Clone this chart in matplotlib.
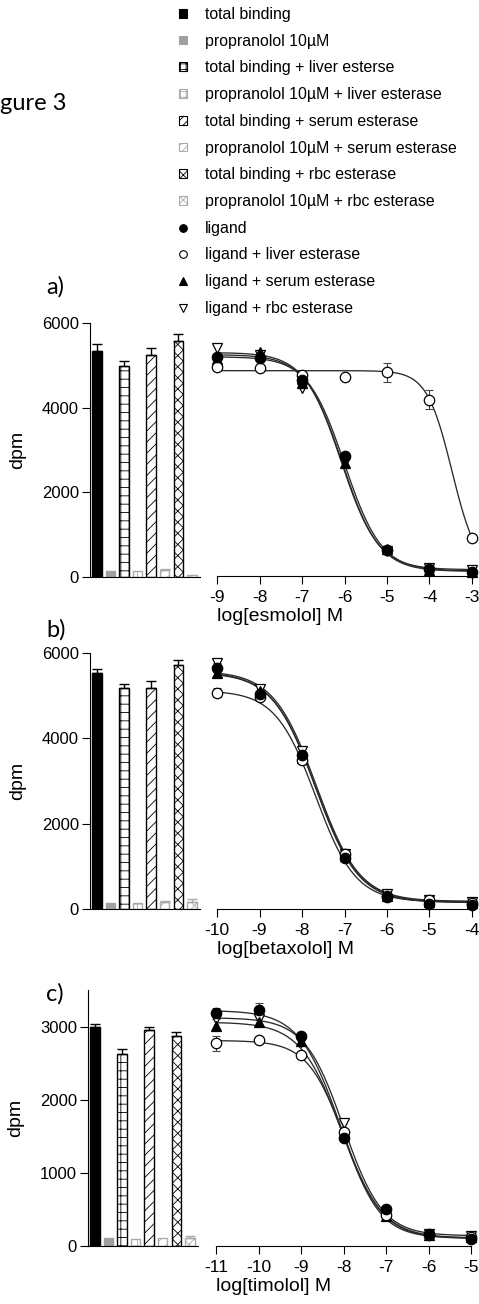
import numpy as np
import matplotlib.pyplot as plt
from matplotlib.patches import Patch
from matplotlib.lines import Line2D

plt.rcParams['font.family'] = ['Liberation Sans', 'DejaVu Sans']
plt.rcParams['axes.unicode_minus'] = False
plt.rcParams['hatch.linewidth'] = 0.6

W, H = 479, 1304

#%% legend / bar styles
bar_labels = ['total binding', 'propranolol 10\u00b5M',
              'total binding + liver esterse', 'propranolol 10\u00b5M + liver esterase',
              'total binding + serum esterase', 'propranolol 10\u00b5M + serum esterase',
              'total binding + rbc esterase', 'propranolol 10\u00b5M + rbc esterase']
curve_labels = ['ligand', 'ligand + liver esterase', 'ligand + serum esterase', 'ligand + rbc esterase']

bar_face = ['black', '#a0a0a0', 'white', 'white', 'white', 'white', 'white', 'white']
bar_edge = ['black', '#a0a0a0', 'black', '#aaaaaa', 'black', '#aaaaaa', 'black', '#aaaaaa']
bar_hatch = [None, None, '++', '++', '///', '///', 'xxx', 'xxx']
legend_hatch = [None, None, '+++', '+++', '////', '////', 'xxxx', 'xxxx']

curve_marker = ['o', 'o', '^', 'v']
curve_face = ['black', 'white', 'black', 'white']

#%% panel a - esmolol
bars_a = [5340, 150, 4980, 130, 5240, 165, 5580, 40]
bars_a_err = [170, 0, 130, 0, 165, 25, 160, 0]
conc_a = [-9, -8, -7, -6, -5, -4, -3]
ligand_a = [5205, 5165, 4650, 2840, 620, 160, 90]
liver_a = [4950, 4930, 4770, 4730, 4830, 4180, 910]
serum_a = [5150, 5320, 4570, 2690, 630, 150, 100]
rbc_a = [5400, 5250, 4460, 2700, 600, 200, 150]
ligand_a_err = [60, 60, 50, 50, 40, 40, 30]
liver_a_err = [60, 80, 40, 40, 230, 220, 40]
# fitted curves: top, bottom, logIC50, hill
fit_a = [(5200, 120, -6.0, 1.0), (4870, 100, -3.47, 1.47),
         (5250, 110, -6.05, 1.0), (5300, 150, -6.08, 1.0)]

#%% panel b - betaxolol
bars_b = [5520, 130, 5190, 150, 5190, 170, 5720, 170]
bars_b_err = [100, 0, 95, 0, 150, 20, 120, 60]
conc_b = [-10, -9, -8, -7, -6, -5, -4]
ligand_b = [5660, 5040, 3610, 1190, 290, 120, 95]
liver_b = [5070, 4980, 3490, 1300, 310, 200, 150]
serum_b = [5520, 5100, 3550, 1250, 300, 170, 130]
rbc_b = [5760, 5150, 3700, 1300, 350, 200, 170]
ligand_b_err = [100, 80, 60, 50, 40, 30, 30]
liver_b_err = [100, 80, 80, 60, 40, 30, 30]
fit_b = [(5560, 160, -7.68, 0.85), (5120, 170, -7.68, 0.92),
         (5540, 150, -7.68, 0.86), (5580, 180, -7.66, 0.86)]

#%% panel c - timolol
bars_c = [3000, 110, 2620, 90, 2955, 115, 2870, 115]
bars_c_err = [30, 0, 80, 0, 37, 0, 50, 20]
conc_c = [-11, -10, -9, -8, -7, -6, -5]
ligand_c = [3180, 3230, 2865, 1470, 500, 160, 95]
liver_c = [2770, 2820, 2610, 1560, 420, 150, 120]
serum_c = [3010, 3060, 2800, 1550, 410, 150, 120]
rbc_c = [3100, 3110, 2795, 1680, 430, 170, 140]
ligand_c_err = [70, 90, 40, 40, 30, 20, 20]
liver_c_err = [100, 40, 40, 40, 30, 20, 20]
fit_c = [(3220, 100, -8.08, 0.9), (2810, 110, -7.97, 1.0),
         (3060, 110, -8.05, 0.9), (3120, 140, -8.0, 0.95)]


def sigmoid(x, top, bottom, logic50, hill):
    return bottom + (top - bottom) / (1 + 10 ** (hill * (x - logic50)))


def draw_panel(fig, bar_rect, cur_rect, ymax, yticks, bars, bars_err, conc,
               series, errs, fits, xlabel, letter, letter_y):
    axb = fig.add_axes([bar_rect[0] / W, 1 - bar_rect[1] / H, bar_rect[2] / W, bar_rect[3] / H])
    pos = np.arange(len(bars))
    for i in range(len(bars)):
        axb.bar(pos[i], bars[i], width=0.7, color=bar_face[i], edgecolor=bar_edge[i],
                hatch=bar_hatch[i], linewidth=1.0)
        if bars_err[i] > 0:
            ecol = 'black' if bar_edge[i] == 'black' else '#aaaaaa'
            axb.errorbar(pos[i], bars[i], yerr=[[0], [bars_err[i]]], fmt='none',
                         ecolor=ecol, elinewidth=1.0, capsize=3.5, capthick=1.0)
    axb.set_xlim(-0.5, 7.6)
    axb.set_ylim(0, ymax)
    axb.set_yticks(yticks)
    axb.set_xticks([])
    for s in ['top', 'right']:
        axb.spines[s].set_visible(False)
    for s in ['left', 'bottom']:
        axb.spines[s].set_linewidth(0.8)
    axb.tick_params(axis='y', length=6, width=0.8, pad=2, labelsize=12)
    axb.set_ylabel('dpm', fontsize=14)
    axb.yaxis.set_label_coords(-0.58, 0.5)
    axb.patch.set_alpha(0)

    axc = fig.add_axes([cur_rect[0] / W, 1 - cur_rect[1] / H, cur_rect[2] / W, cur_rect[3] / H])
    xs = np.linspace(conc[0], conc[-1], 300)
    order = [3, 2, 1, 0]
    for k in order:
        axc.plot(xs, sigmoid(xs, *fits[k]), color='#2a2a2a', lw=0.95, zorder=2)
    for k in order:
        if errs[k] is not None:
            axc.errorbar(conc, series[k], yerr=errs[k], fmt='none', ecolor='#444444',
                         elinewidth=0.8, capsize=3, capthick=0.8, zorder=3, clip_on=False)
        axc.plot(conc, series[k], ls='none', marker=curve_marker[k], ms=7.5,
                 mfc=curve_face[k], mec='black', mew=0.9, zorder=4 + (3 - k), clip_on=False)
    axc.set_xlim(conc[0], conc[-1])
    axc.set_ylim(0, ymax)
    axc.set_xticks(conc)
    axc.set_yticks([])
    for s in ['top', 'right', 'left']:
        axc.spines[s].set_visible(False)
    axc.spines['bottom'].set_linewidth(0.8)
    axc.tick_params(axis='x', length=6, width=0.8, pad=4, labelsize=12.5)
    axc.set_xlabel(xlabel, fontsize=14, loc='left', labelpad=2.5)
    axc.patch.set_alpha(0)

    fig.text(46 / W, 1 - letter_y / H, letter, fontsize=17, family='Lato', va='center')
    return axb, axc


fig = plt.figure(figsize=(W / 100, H / 100), dpi=100)

draw_panel(fig, (90, 577, 110, 254), (217, 576, 255, 253), 6000, [0, 2000, 4000, 6000],
           bars_a, bars_a_err, conc_a, [ligand_a, liver_a, serum_a, rbc_a],
           [ligand_a_err, liver_a_err, None, None], fit_a, 'log[esmolol] M', 'a)', 287)
draw_panel(fig, (90, 909, 110, 256), (217, 909, 255, 256), 6000, [0, 2000, 4000, 6000],
           bars_b, bars_b_err, conc_b, [ligand_b, liver_b, serum_b, rbc_b],
           [ligand_b_err, liver_b_err, None, None], fit_b, 'log[betaxolol] M', 'b)', 630)
draw_panel(fig, (88, 1246, 110, 256), (216, 1246, 255, 256), 3500, [0, 1000, 2000, 3000],
           bars_c, bars_c_err, conc_c, [ligand_c, liver_c, serum_c, rbc_c],
           [ligand_c_err, liver_c_err, None, None], fit_c, 'log[timolol] M', 'c)', 994)

# legend
handles = []
for i in range(len(bar_labels)):
    handles.append(Patch(facecolor=bar_face[i], edgecolor=bar_edge[i], hatch=legend_hatch[i], linewidth=0.8))
for k in range(len(curve_labels)):
    handles.append(Line2D([], [], ls='none', marker=curve_marker[k], ms=5.5,
                          mfc=curve_face[k], mec='black', mew=0.8))
fig.legend(handles, bar_labels + curve_labels, loc='upper left',
           bbox_to_anchor=(179 / W, 1 - 7 / H), frameon=False, fontsize=11.4,
           handlelength=0.48, handleheight=0.48, handletextpad=1.15, labelspacing=0.74,
           borderpad=0, borderaxespad=0)

fig.text(0, 1 - 104 / H, 'gure 3', fontsize=17, family='Lato', ha='left', va='center')

fig.savefig('out.png', dpi=100)
